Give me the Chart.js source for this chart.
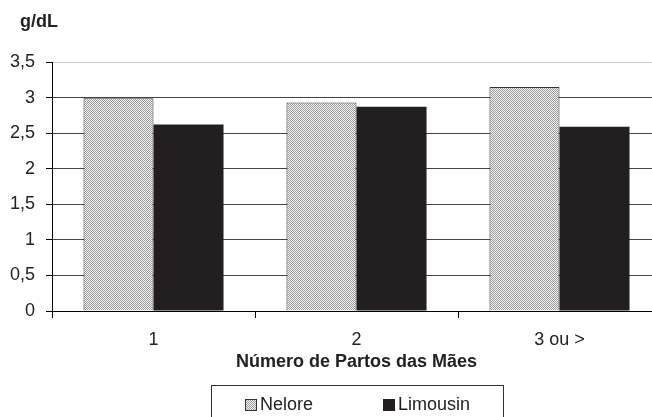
<!DOCTYPE html>
<html>
<head>
<meta charset="utf-8">
<script src="https://cdn.jsdelivr.net/npm/chart.js@4"></script>
<style>
    html, body { margin: 0; padding: 0; background: #fff; overflow: hidden; }
    #wrap { position: relative; width: 652px; height: 417px; overflow: hidden; }
    #chart { position: absolute; left: 0; top: 0; }
    #unit { position: absolute; left: 20px; top: 11px; font: bold 18px "Liberation Sans", Arial, sans-serif; color: #222; }
    #legend {
        position: absolute; left: 211px; top: 385px; width: 291px; height: 45px;
        border: 1px solid #333; font: 18px "Liberation Sans", Arial, sans-serif; color: #222;
    }
    .item { position: absolute; top: 8px; line-height: 20px; }
    .box { display: inline-block; width: 12px; height: 12px; vertical-align: -1px; margin-right: 3px; box-sizing: border-box; }
</style>
</head>
<body>
<div id="wrap">
    <canvas id="chart" width="672" height="417"></canvas>
    <div id="unit">g/dL</div>
    <div id="legend">
        <span class="item" style="left:33px"><span class="box" id="neloreBox"></span>Nelore</span>
        <span class="item" style="left:171px"><span class="box" style="background:#231f20"></span>Limousin</span>
    </div>
</div>
<script>
const categories = ["1", "2", "3 ou >"];
const nelore = [2.99, 2.93, 3.15];
const limousin = [2.62, 2.87, 2.59];
const yTicks = [0, 0.5, 1, 1.5, 2, 2.5, 3, 3.5];

// dotted fill used by the Nelore bars
function makeDots() {
    const c = document.createElement("canvas");
    c.width = 2;
    c.height = 2;
    const g = c.getContext("2d");
    g.fillStyle = "#f4f4f4";
    g.fillRect(0, 0, 2, 2);
    g.fillStyle = "#9a9a9a";
    g.fillRect(0, 0, 1, 1);
    g.fillRect(1, 1, 1, 1);
    return c;
}

const dots = makeDots();
const ctx = document.getElementById("chart").getContext("2d");
const dotPattern = ctx.createPattern(dots, "repeat");

document.getElementById("neloreBox").style.background = "url(" + dots.toDataURL() + ")";
document.getElementById("neloreBox").style.border = "1px solid #333";

const font = { family: "'Liberation Sans', Arial, sans-serif", size: 18 };

new Chart(ctx, {
    type: "bar",
    data: {
        labels: categories,
        datasets: [
            {
                label: "Nelore",
                data: nelore,
                backgroundColor: dotPattern,
                borderColor: "#333",
                borderWidth: 1
            },
            {
                label: "Limousin",
                data: limousin,
                backgroundColor: "#231f20",
                borderWidth: 0
            }
        ]
    },
    options: {
        responsive: false,
        animation: false,
        layout: { padding: { top: 62, right: 11, bottom: 44, left: 0 } },
        plugins: {
            legend: { display: false },
            tooltip: { enabled: false }
        },
        datasets: {
            bar: { categoryPercentage: 0.69, barPercentage: 1 }
        },
        scales: {
            x: {
                afterFit: (scale) => { scale.height = 62; },
                grid: {
                    offset: true,
                    drawOnChartArea: false,
                    tickLength: 7,
                    tickColor: "#000"
                },
                border: { color: "#000", width: 1 },
                ticks: { font: font, color: "#222", padding: 11 },
                title: {
                    display: true,
                    text: "Número de Partos das Mães",
                    font: { family: font.family, size: 18, weight: "bold" },
                    color: "#222",
                    padding: 0
                }
            },
            y: {
                min: 0,
                max: 3.5,
                afterFit: (scale) => { scale.width = 52; },
                afterBuildTicks: (scale) => { scale.ticks = yTicks.map(v => ({ value: v })); },
                grid: {
                    color: (c) => c.tick && c.tick.value === 3.5 ? "#c8c8c8" : "#444",
                    tickLength: 6,
                    tickColor: "#000"
                },
                border: { color: "#000", width: 1 },
                ticks: {
                    font: font,
                    color: "#222",
                    padding: 11,
                    callback: (v) => String(v).replace(".", ",")
                }
            }
        }
    }
});
</script>
</body>
</html>
